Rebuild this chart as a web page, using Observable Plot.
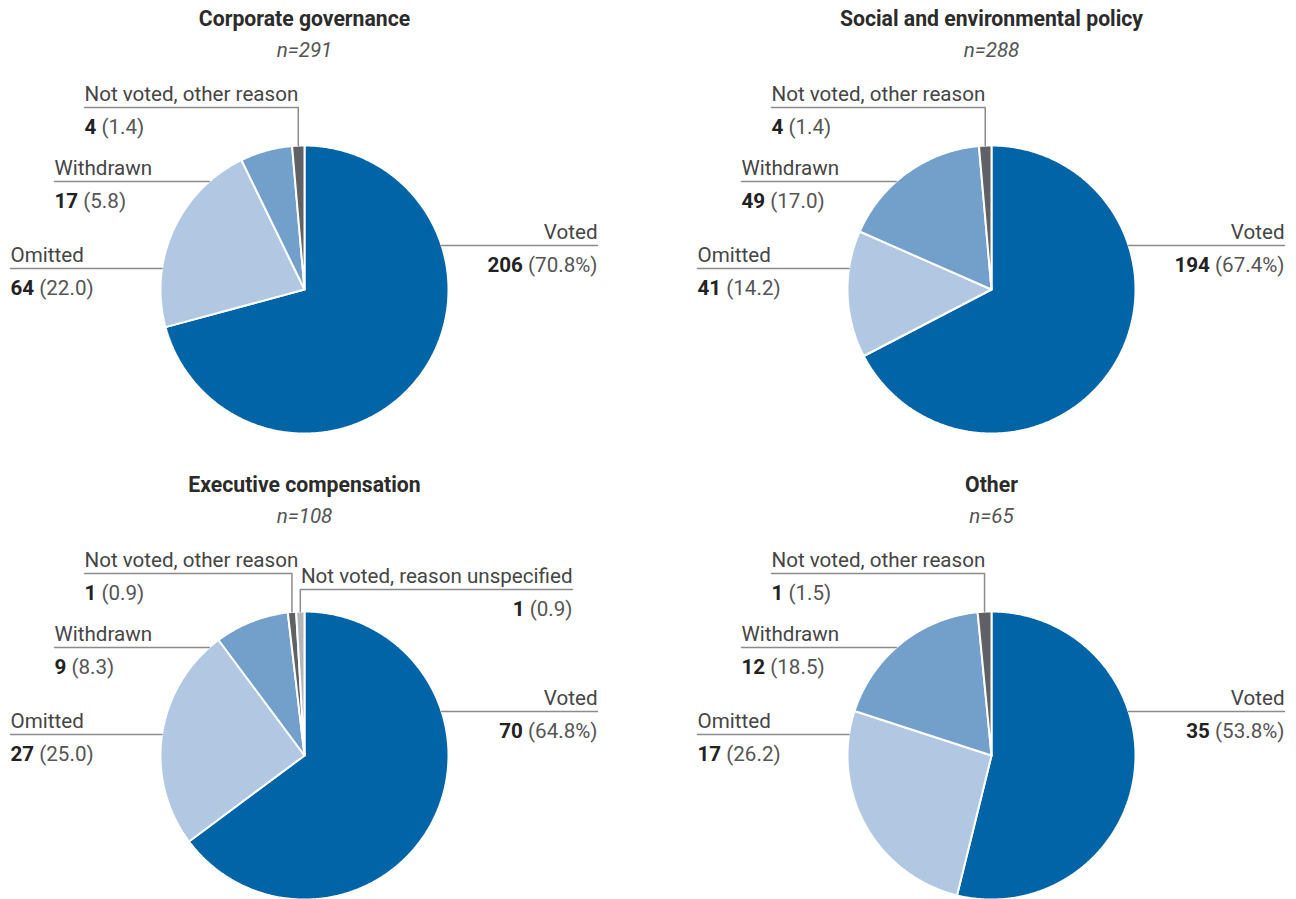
<!DOCTYPE html>
<html>
<head>
<meta charset="utf-8">
<script src="https://cdn.jsdelivr.net/npm/d3@7"></script>
<script src="https://cdn.jsdelivr.net/npm/@observablehq/plot@0.6"></script>
<style>
  html, body { margin: 0; padding: 0; background: #fff; overflow: hidden; }
  #grid { display: grid; grid-template-columns: 648px 648px; width: 1296px; }
  #grid svg { display: block; }
</style>
</head>
<body>
<div id="grid"></div>
<script>
// ---------- Data ----------
const categories = ["Voted", "Omitted", "Withdrawn", "Not voted, other reason", "Not voted, reason unspecified"];
const panelTitles = ["Corporate governance", "Social and environmental policy", "Executive compensation", "Other"];
const panelN = [291, 288, 108, 65];
const votedCount = [206, 194, 70, 35];
const votedPct = [70.8, 67.4, 64.8, 53.8];
const omittedCount = [64, 41, 27, 17];
const omittedPct = [22.0, 14.2, 25.0, 26.2];
const withdrawnCount = [17, 49, 9, 12];
const withdrawnPct = [5.8, 17.0, 8.3, 18.5];
const otherReasonCount = [4, 4, 1, 1];
const otherReasonPct = [1.4, 1.4, 0.9, 1.5];
const unspecifiedCount = [0, 0, 1, 0];
const unspecifiedPct = [0, 0, 0.9, 0];

// ---------- Styling / layout ----------
const sliceColors = ["#0064a6", "#b1c7e2", "#739fcb", "#5f6165", "#b4b5b8"];
const FONT = "Roboto, 'Liberation Sans', sans-serif";
const FS = 20.6;
const TFS = 21.2;
const R = 144;
const labelLayout = {
  "Voted": {side: "right", x: 293, line: -44},
  "Omitted": {side: "left", x: -294, line: -21},
  "Withdrawn": {side: "left", x: -250, line: -108},
  "Not voted, other reason": {side: "left", x: -220, line: -182, vertical: true},
  "Not voted, reason unspecified": {side: "right", x: 268, line: -166, vertical: true}
};
const panelCx = [304, 343, 304, 343];
const panelH = [466, 466, 433, 433];
const panelCy = 289;
const W = 648;

const ctx = document.createElement("canvas").getContext("2d");
function textWidth(str, weight) {
  ctx.font = `${weight} ${FS}px ${FONT}`;
  return ctx.measureText(str).width;
}

const counts = [votedCount, omittedCount, withdrawnCount, otherReasonCount, unspecifiedCount];
const pcts = [votedPct, omittedPct, withdrawnPct, otherReasonPct, unspecifiedPct];

const grid = document.getElementById("grid");

panelTitles.forEach((title, p) => {
  const rows = categories.map((c, i) => ({cat: c, count: counts[i][p], pct: pcts[i][p], idx: i}))
    .filter(d => d.count > 0);
  const arcs = d3.pie().sort(null).value(d => d.count)(rows);

  // slice polygons
  const slicePts = [];
  const leader = [];
  const labelsL = [], labelsR = [];
  arcs.forEach(a => {
    const cat = a.data.cat;
    const steps = Math.max(2, Math.ceil((a.endAngle - a.startAngle) / (Math.PI / 360)));
    slicePts.push({cat, x: 0, y: 0});
    for (let k = 0; k <= steps; k++) {
      const t = a.startAngle + (a.endAngle - a.startAngle) * k / steps;
      slicePts.push({cat, x: R * Math.sin(t), y: -R * Math.cos(t)});
    }
    slicePts.push({cat, x: 0, y: 0});

    const L = labelLayout[cat];
    if (L.vertical) {
      const mid = (a.startAngle + a.endAngle) / 2;
      const mx = R * Math.sin(mid);
      leader.push({cat, x: L.x, y: L.line});
      leader.push({cat, x: mx, y: L.line});
      leader.push({cat, x: mx, y: -Math.sqrt(R * R - mx * mx)});
    } else {
      const ex = Math.sqrt(R * R - L.line * L.line) * (L.side === "left" ? -1 : 1);
      leader.push({cat, x: L.x, y: L.line});
      leader.push({cat, x: ex, y: L.line});
    }
    const num = String(a.data.count);
    const paren = a.data.idx === 0 ? `(${a.data.pct.toFixed(1)}%)` : `(${a.data.pct.toFixed(1)})`;
    const rec = {cat, num, paren, nameY: L.line - 7, valY: L.line + 26};
    if (L.side === "left") {
      rec.x = L.x;
      rec.numX = L.x;
      rec.parenX = L.x + textWidth(num + " ", 700);
      labelsL.push(rec);
    } else {
      rec.x = L.x;
      rec.parenX = L.x;
      rec.numX = L.x - textWidth(" " + paren, 400);
      labelsR.push(rec);
    }
  });

  const cx = panelCx[p], H = panelH[p];
  const head = [{t: title, n: `n=${panelN[p]}`, x: 0}];

  const chart = Plot.plot({
    width: W,
    height: H,
    margin: 0,
    style: {fontFamily: FONT, background: "white"},
    x: {type: "linear", domain: [-cx, W - cx], range: [0, W], axis: null},
    y: {type: "linear", domain: [-panelCy, H - panelCy], range: [0, H], axis: null},
    color: {domain: categories, range: sliceColors},
    marks: [
      Plot.line(slicePts, {x: "x", y: "y", z: "cat", fill: "cat", stroke: "white", strokeWidth: 2, strokeLinejoin: "miter"}),
      Plot.line(leader, {x: "x", y: "y", z: "cat", stroke: "#8c8c8c", strokeWidth: 1.5}),
      Plot.text(head, {x: "x", y: () => -264, text: "t", fontSize: TFS, fontWeight: "bold", fill: "#2b2b2b", lineAnchor: "bottom"}),
      Plot.text(head, {x: "x", y: () => -233, text: "n", fontSize: FS, fontStyle: "italic", fill: "#555", lineAnchor: "bottom"}),
      Plot.text(labelsL, {x: "x", y: "nameY", text: "cat", textAnchor: "start", fontSize: FS, fill: "#454545", lineAnchor: "bottom"}),
      Plot.text(labelsL, {x: "numX", y: "valY", text: "num", textAnchor: "start", fontSize: FS, fontWeight: "bold", fill: "#222", lineAnchor: "bottom"}),
      Plot.text(labelsL, {x: "parenX", y: "valY", text: "paren", textAnchor: "start", fontSize: FS, fill: "#555", lineAnchor: "bottom"}),
      Plot.text(labelsR, {x: "x", y: "nameY", text: "cat", textAnchor: "end", fontSize: FS, fill: "#454545", lineAnchor: "bottom"}),
      Plot.text(labelsR, {x: "numX", y: "valY", text: "num", textAnchor: "end", fontSize: FS, fontWeight: "bold", fill: "#222", lineAnchor: "bottom"}),
      Plot.text(labelsR, {x: "parenX", y: "valY", text: "paren", textAnchor: "end", fontSize: FS, fill: "#555", lineAnchor: "bottom"})
    ]
  });
  grid.appendChild(chart);
});
</script>
</body>
</html>
